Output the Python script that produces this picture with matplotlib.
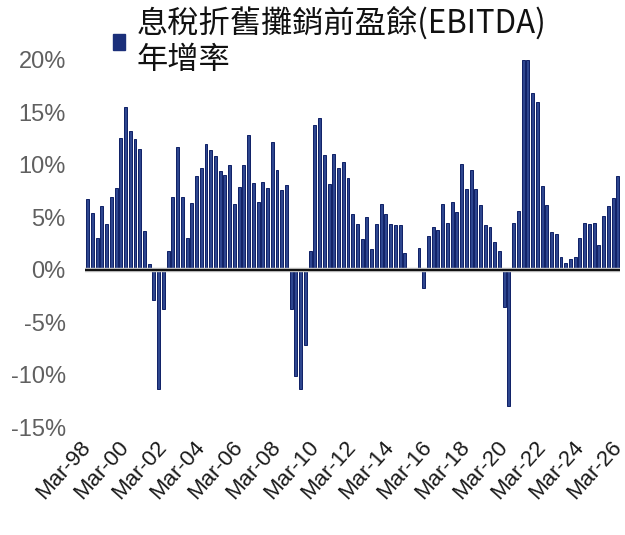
import matplotlib
matplotlib.use("Agg")
import matplotlib.pyplot as plt
from matplotlib.patches import Rectangle

# quarterly EBITDA YoY growth (%), Mar-98 .. Mar-26
growth = [
    6.7, 5.4, 3.0, 6.1, 4.4, 6.9, 7.8, 12.6, 15.5, 13.2, 12.5, 11.5,
    3.7, 0.5, -2.9, -11.4, -3.7, 1.8, 6.9, 11.7, 6.9, 3.0, 6.4, 8.9,
    9.7, 12.0, 11.4, 10.8, 9.4, 9.0, 10.0, 6.3, 7.9, 10.0, 12.8, 8.3,
    6.5, 8.4, 7.8, 12.2, 9.5, 7.6, 8.1, -3.7, -10.1, -11.4, -7.2, 1.8,
    13.8, 14.5, 10.9, 8.2, 11.0, 9.7, 10.3, 8.7, 5.3, 4.4, 2.9, 5.0,
    2.0, 4.4, 6.3, 5.3, 4.4, 4.3, 4.3, 1.6, 0.0, 0.0, 2.1, -1.7,
    3.2, 4.1, 3.8, 6.3, 4.5, 6.5, 5.5, 10.1, 7.7, 9.5, 7.7, 6.2,
    4.3, 4.1, 2.6, 1.8, -3.6, -13.0, 4.5, 5.6, 20.0, 20.0, 16.9, 16.0,
    8.0, 6.2, 3.6, 3.4, 1.2, 0.6, 1.0, 1.2, 3.0, 4.5, 4.4, 4.5,
    2.4, 5.1, 6.1, 6.8, 8.9,
]
xtick_labels = ["Mar-98", "Mar-00", "Mar-02", "Mar-04", "Mar-06", "Mar-08",
                "Mar-10", "Mar-12", "Mar-14", "Mar-16", "Mar-18", "Mar-20",
                "Mar-22", "Mar-24", "Mar-26"]
ytick_values = [20, 15, 10, 5, 0, -5, -10, -15]
ytick_labels = ["20%", "15%", "10%", "5%", "0%", "-5%", "-10%", "-15%"]
series_name = "息稅折舊攤銷前盈餘(EBITDA)\n年增率"

W, H = 625, 535
fig = plt.figure(figsize=(W / 100, H / 100), dpi=100)
ax = fig.add_axes([85.3 / W, 1 - 427 / H, (620.2 - 85.3) / W, (427 - 60) / H])

x = list(range(len(growth)))
ax.bar(x, growth, width=0.62, color="#2E468F", edgecolor="#0E1F66",
       linewidth=0.7, zorder=2)
ax.axhline(0, color="#BDBDBD", lw=3.2, zorder=3)
ax.axhline(0, color="#111111", lw=1.5, zorder=4)

ax.set_xlim(-0.5, len(growth) - 0.5)
ax.set_ylim(-15, 20)
for s in ax.spines.values():
    s.set_visible(False)

tick_font = ["Liberation Sans", "DejaVu Sans"]
ax.set_yticks(ytick_values)
ax.set_yticklabels(ytick_labels, fontsize=17, color="#606060", family=tick_font)
ax.set_xticks(x[::8])
ax.set_xticklabels(xtick_labels, fontsize=16, color="#1a1a1a", family=tick_font,
                   rotation=48, ha="right", va="center", rotation_mode="anchor")
ax.tick_params(axis="both", length=0)
ax.tick_params(axis="y", pad=14)
ax.tick_params(axis="x", pad=12)

# legend
fig.patches.append(Rectangle((113 / W, 1 - 50 / H), 12 / W, 16 / H,
                             transform=fig.transFigure, color="#1B2F7A"))
fig.text(137 / W, 1 - 7 / H, series_name, va="top", ha="left", fontsize=22.5,
         color="#111111", linespacing=1.16,
         family=["Noto Sans CJK TC", "DejaVu Sans"])

fig.savefig("out.png", dpi=100)
